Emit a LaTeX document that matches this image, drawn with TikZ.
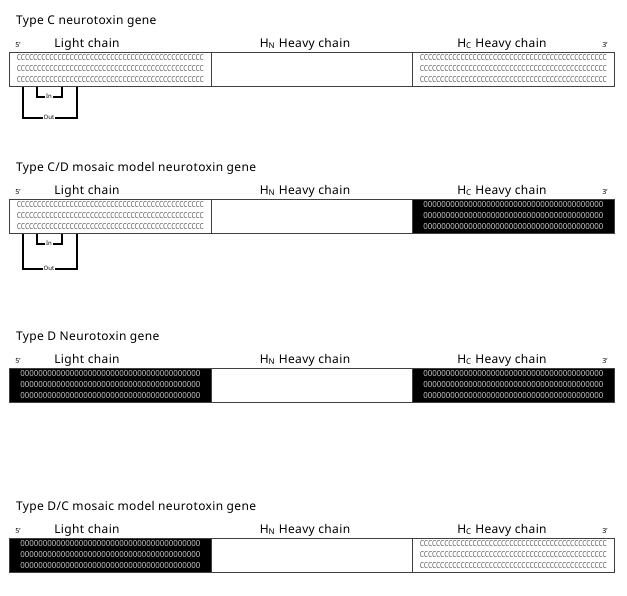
\documentclass[tikz,border=0pt]{standalone}
\usepackage{fontspec}
\setmainfont{Noto Sans}
\usepackage{graphicx}
\definecolor{barline}{HTML}{404040}
\definecolor{cgray}{HTML}{5E5E5E}
\definecolor{dgray}{HTML}{C8C8C8}
\colorlet{Cfill}{white}
\colorlet{Dfill}{black}
\newcommand\Crowtext{\resizebox{187pt}{6pt}{CCCCCCCCCCCCCCCCCCCCCCCCCCCCCCCCCCCCCCCCCCCCCC}}
\newcommand\Drowtext{\resizebox{180pt}{6pt}{0000000000000000000000000000000000000000}}
\tikzset{
  x=1pt, y=-1pt,
  seg/.style={draw=barline, line width=0.8pt, minimum width=202pt, minimum height=34pt, inner sep=0pt, anchor=north west},
  Crow/.style={inner sep=0pt, text=cgray},
  Drow/.style={inner sep=0pt, text=dgray},
  ttl/.style={font=\fontsize{12}{14}\selectfont\addfontfeature{LetterSpace=3}, anchor=base west, inner sep=0pt},
  lab/.style={font=\fontsize{12}{14}\selectfont\addfontfeature{LetterSpace=3}, anchor=base, inner sep=0pt},
  prime/.style={font=\fontsize{7}{8}\selectfont, anchor=base, inner sep=0pt},
  brk/.style={line width=1.8pt, black},
  tiny/.style={font=\fontsize{6}{7}\selectfont, inner sep=1pt},
}
\newcommand\patseg[4]{% name, x, top, type
  \node[seg, fill=#4fill] (#1) at (#2,#3) {};
  \foreach \k/\dy in {a/5.5,b/16.5,c/27.5}
    \node[#4row] (#1\k) at ([yshift=-\dy pt]#1.north) {\csname #4rowtext\endcsname};
}
\newcommand\panel[5]{% idx, top, title, left type, right type
  \pgfmathsetmacro\ttly{#2-28}
  \pgfmathsetmacro\laby{#2-5}
  \node[ttl] (t#1) at (16,\ttly) {#3};
  \node[prime] (five#1) at (18,\laby) {5'};
  \node[lab] (lc#1) at (87,\laby) {Light chain};
  \node[lab] (hn#1) at (305,\laby) {H\textsubscript{N} Heavy chain};
  \node[lab] (hc#1) at (502,\laby) {H\textsubscript{C} Heavy chain};
  \node[prime] (three#1) at (605,\laby) {3'};
  \patseg{L#1}{9}{#2}{#4}
  \node[seg, minimum width=201pt] (N#1) at (211,#2) {};
  \patseg{R#1}{412}{#2}{#5}
}
\newcommand\brackets[2]{% idx, out depth
  \coordinate (inl#1) at ([xshift=28pt]L#1.south west);
  \coordinate (inr#1) at ([xshift=53pt]L#1.south west);
  \coordinate (outl#1) at ([xshift=14pt]L#1.south west);
  \coordinate (outr#1) at ([xshift=68pt]L#1.south west);
  \node[tiny] (in#1) at ([xshift=40pt, yshift=-10pt]L#1.south west) {In};
  \node[tiny] (out#1) at ([xshift=40pt, yshift=-#2pt]L#1.south west) {Out};
  \draw[brk] (inl#1) |- (in#1.west);
  \draw[brk] (inr#1) |- (in#1.east);
  \draw[brk] (outl#1) |- (out#1.west);
  \draw[brk] (outr#1) |- (out#1.east);
}
\begin{document}
\begin{tikzpicture}
\useasboundingbox (0,0) rectangle (627,595);
\panel{1}{52}{Type C neurotoxin gene}{C}{C}
\brackets{1}{31}
\panel{2}{199}{Type C/D mosaic model neurotoxin gene}{C}{D}
\brackets{2}{35}
\panel{3}{368}{Type D Neurotoxin gene}{D}{D}
\panel{4}{538}{Type D/C mosaic model neurotoxin gene}{D}{C}
\end{tikzpicture}
\end{document}
